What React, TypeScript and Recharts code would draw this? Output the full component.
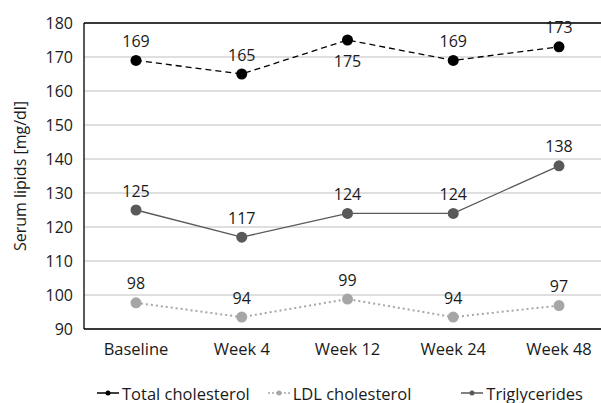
import { LineChart, Line, XAxis, YAxis, CartesianGrid, Legend, LabelList, ReferenceLine } from 'recharts'

const weeks = ['Baseline', 'Week 4', 'Week 12', 'Week 24', 'Week 48']
const totalCholesterol = [169, 165, 175, 169, 173]
const ldlCholesterol = [97.7, 93.5, 98.8, 93.5, 96.9]
const triglycerides = [125, 117, 124, 124, 138]
const yTicks = [90, 100, 110, 120, 130, 140, 150, 160, 170, 180]

const FONT = '"Open Sans", "Noto Sans", sans-serif'
const TEXT = '#1a1a1a'

const data = weeks.map((week, i) => ({
  week,
  total: totalCholesterol[i],
  ldl: ldlCholesterol[i],
  tg: triglycerides[i],
}))

// labels sit above the point, except where listed in `below`
const makeLabel = (below: number[] = []) => (props: any) => {
  const { x, y, value, index } = props
  const dy = below.includes(index) ? 21 : -19.5
  return (
    <text x={x} y={y + dy} textAnchor="middle" dominantBaseline="central" fontSize={16} fill={TEXT} fontFamily={FONT}>
      {Math.round(value)}
    </text>
  )
}

const YLabel = ({ viewBox }: any) => {
  const cy = viewBox.y + viewBox.height / 2
  return (
    <text x={20} y={cy} transform={`rotate(-90 20 ${cy})`} textAnchor="middle" dominantBaseline="central" fontSize={16} fill={TEXT} fontFamily={FONT}>
      Serum lipids [mg/dl]
    </text>
  )
}

const legendItems = [
  { name: 'Total cholesterol', color: '#000000', dash: undefined, width: 171 },
  { name: 'LDL cholesterol', color: '#a6a6a6', dash: '2 2', width: 194 },
  { name: 'Triglycerides', color: '#595959', dash: undefined, width: 150 },
]

const LegendContent = () => (
  <div style={{ height: 24, boxSizing: 'border-box', paddingTop: 4, paddingLeft: 97, display: 'flex', alignItems: 'center', fontFamily: FONT, fontSize: 16.5, color: TEXT }}>
    {legendItems.map((item) => (
      <div key={item.name} style={{ width: item.width, display: 'flex', alignItems: 'center' }}>
        <svg width={22} height={10} style={{ marginRight: 3 }}>
          <line x1={0} y1={5} x2={22} y2={5} stroke={item.color} strokeWidth={1.5} strokeDasharray={item.dash} />
          <circle cx={11} cy={5} r={2.5} fill={item.color} />
        </svg>
        <span style={{ whiteSpace: 'nowrap' }}>{item.name}</span>
      </div>
    ))}
  </div>
)

export default function App() {
  return (
    <div style={{ position: 'fixed', left: 0, top: 0, width: 601, height: 403, overflow: 'hidden', background: '#fff' }}>
      <LineChart width={611} height={403} data={data} margin={{ top: 23, right: 0, left: 0, bottom: 0 }}>
        <CartesianGrid vertical={false} stroke="#bfbfbf" strokeWidth={1.2} />
        <XAxis
          dataKey="week"
          padding={{ left: 52, right: 52 }}
          height={50}
          axisLine={{ stroke: '#000', strokeWidth: 1.3 }}
          tickLine={false}
          tickSize={6}
          tickMargin={8}
          tick={{ fill: TEXT, fontSize: 16.5, fontFamily: FONT }}
        />
        <YAxis
          domain={[90, 180]}
          ticks={yTicks}
          width={84}
          axisLine={{ stroke: '#000', strokeWidth: 1.3 }}
          tickLine={false}
          tickSize={6}
          tickMargin={5}
          tick={{ fill: TEXT, fontSize: 16, fontFamily: FONT }}
          label={<YLabel />}
        />
        <ReferenceLine y={180} stroke="#000" strokeWidth={1.3} />
        <Legend verticalAlign="bottom" content={<LegendContent />} wrapperStyle={{ left: 0, width: 611 }} />
        <Line
          dataKey="total"
          name="Total cholesterol"
          stroke="#000"
          strokeWidth={1.3}
          strokeDasharray="6 4"
          dot={{ r: 5.5, fill: '#000', stroke: '#000', strokeWidth: 0 }}
          isAnimationActive={false}
        >
          <LabelList dataKey="total" content={makeLabel([2])} />
        </Line>
        <Line
          dataKey="ldl"
          name="LDL cholesterol"
          stroke="#a6a6a6"
          strokeWidth={2}
          strokeDasharray="2 3"
          dot={{ r: 5.5, fill: '#a6a6a6', stroke: '#a6a6a6', strokeWidth: 0 }}
          isAnimationActive={false}
        >
          <LabelList dataKey="ldl" content={makeLabel()} />
        </Line>
        <Line
          dataKey="tg"
          name="Triglycerides"
          stroke="#595959"
          strokeWidth={1.3}
          dot={{ r: 5.5, fill: '#595959', stroke: '#595959', strokeWidth: 0 }}
          isAnimationActive={false}
        >
          <LabelList dataKey="tg" content={makeLabel()} />
        </Line>
      </LineChart>
    </div>
  )
}
